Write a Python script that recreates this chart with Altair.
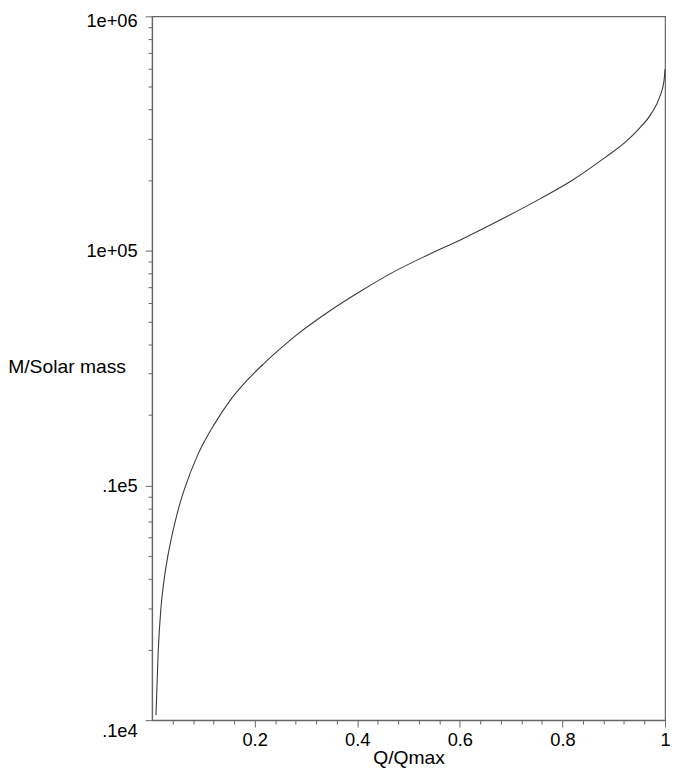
import altair as alt
import pandas as pd

# Q/Qmax values
q_ratio = [0.0077, 0.0121, 0.0173, 0.0237, 0.0307, 0.0377, 0.0442, 0.052, 0.064,
           0.090, 0.121, 0.153, 0.185, 0.217, 0.262, 0.2813, 0.3454, 0.4096,
           0.4737, 0.5377, 0.602, 0.666, 0.756, 0.82, 0.884, 0.922, 0.948,
           0.9737, 0.9896, 0.998, 1.0]
# M / solar mass at those points
solar_mass = [1050, 1977, 2992, 3990, 4989, 5957, 6879, 8035, 9772,
              13646, 18180, 23174, 28054, 32961, 40365, 43752, 55335, 68000,
              82035, 96161, 111686, 131220, 166725, 200679, 251189, 290000, 329610,
              386800, 453900, 532100, 595700]

x_ticks = [0.04, 0.08, 0.12, 0.16, 0.2, 0.24, 0.28, 0.32, 0.36, 0.4,
           0.44, 0.48, 0.52, 0.56, 0.6, 0.64, 0.68, 0.72, 0.76, 0.8,
           0.84, 0.88, 0.92, 0.96, 1.0]
y_ticks = [1000, 2000, 3000, 4000, 5000, 6000, 7000, 8000, 9000,
           10000, 20000, 30000, 40000, 50000, 60000, 70000, 80000, 90000,
           100000, 200000, 300000, 400000, 500000, 600000, 700000, 800000, 900000,
           1000000]
y_major = [1000, 10000, 100000, 1000000]
y_major_labels = [".1e4", ".1e5", "1e+05", "1e+06"]

df = pd.DataFrame({"q": q_ratio, "m": solar_mass})

major_x = "abs(datum.value*5 - round(datum.value*5)) < 1e-6"
major_y = "abs(log(datum.value)/LN10 - round(log(datum.value)/LN10)) < 1e-6"

y_expr = ""
for v, lab in zip(y_major, y_major_labels):
    y_expr += f"datum.value == {v} ? '{lab}' : "
y_expr += "''"

x_expr = f"{major_x} ? (datum.value == 1 ? '1' : format(datum.value, '.1f')) : ''"

x_axis = alt.Axis(
    values=x_ticks,
    labelExpr=x_expr,
    tickSize={"condition": {"test": major_x, "value": 7}, "value": 4},
    labelPadding=4,
    labelOverlap=False,
    labelFlush=False,
    title="Q/Qmax",
    titleFontSize=19.5,
    titleY=38,
    titleBaseline="middle",
)

y_axis = alt.Axis(
    values=y_ticks,
    labelExpr=y_expr,
    tickSize={"condition": {"test": major_y, "value": 7}, "value": 4},
    labelPadding=8,
    labelOverlap=False,
    labelFlush=False,
    labelOffset={"condition": [{"test": "datum.value < 1500", "value": 11},
                               {"test": "datum.value > 950000", "value": 4}],
                 "value": 0},
    title="M/Solar mass",
    titleAngle=0,
    titleAlign="left",
    titleBaseline="middle",
    titleX=-146,
    titleY=354,
    titleFontSize=19.5,
)

chart = alt.Chart(df).mark_line(
    color="#3a3a3a", strokeWidth=1.1, interpolate="monotone"
).encode(
    x=alt.X("q:Q", scale=alt.Scale(domain=[0, 1], nice=False, zero=False), axis=x_axis),
    y=alt.Y("m:Q", scale=alt.Scale(type="log", domain=[1000, 1000000], nice=False), axis=y_axis),
).properties(
    width=519,
    height=712,
    autosize=alt.AutoSizeParams(type="none"),
    padding={"left": 145.7, "top": 4, "right": 5, "bottom": 47},
).configure_view(
    stroke="#666666", strokeWidth=1.2
).configure_axis(
    grid=False,
    domainColor="#666666",
    domainWidth=1.2,
    tickColor="#666666",
    labelFont="Liberation Sans",
    labelFontSize=18.5,
    labelColor="black",
    titleFont="Liberation Sans",
    titleFontWeight="normal",
    titleColor="black",
)

chart.save("out.html", embed_options={"renderer": "svg", "actions": False})
